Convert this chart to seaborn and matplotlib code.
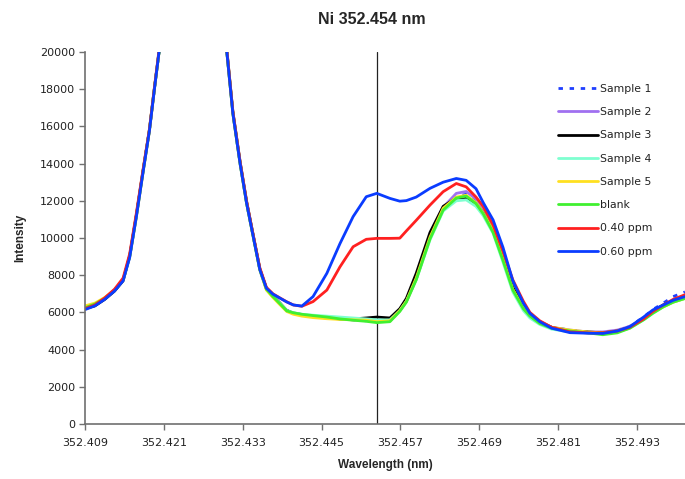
import matplotlib
matplotlib.use("Agg")
import matplotlib.pyplot as plt
import seaborn as sns
import pandas as pd
import numpy as np
from matplotlib.ticker import FixedLocator, FixedFormatter

# ---------------- data ----------------
wavelength = [352.4090, 352.4105, 352.4120, 352.4135, 352.4148, 352.4158, 352.4168, 352.4178, 352.4188, 352.4196,
              352.4203, 352.4225, 352.4255, 352.4285, 352.4305, 352.4315, 352.4326, 352.4336, 352.4346, 352.4356,
              352.4366, 352.4376, 352.4387, 352.4397, 352.4407, 352.4420, 352.4437, 352.4458, 352.4478, 352.4498,
              352.4518, 352.4534, 352.4554, 352.4569, 352.4579, 352.4594, 352.4615, 352.4635, 352.4655, 352.4670,
              352.4685, 352.4696, 352.4711, 352.4726, 352.4741, 352.4757, 352.4767, 352.4782, 352.4800, 352.4828,
              352.4855, 352.4878, 352.4900, 352.4919, 352.4940, 352.4954, 352.4970, 352.4985, 352.5003]

sample1 = [6200, 6400, 6750, 7200, 7750, 9000, 11150, 13500, 15800, 18150,
           20100, 25000, 30000, 25000, 20300, 16700, 14000, 11850, 10070, 8300,
           7250, 6850, 6470, 6100, 5980, 5880, 5800, 5720, 5650, 5600,
           5550, 5500, 5550, 6100, 6600, 7800, 10000, 11550, 12250, 12350,
           11950, 11400, 10400, 8850, 7250, 6250, 5850, 5450, 5200, 5050,
           4950, 4900, 5000, 5250, 5750, 6150, 6500, 6850, 7100]
sample2 = [6200, 6400, 6750, 7200, 7750, 9000, 11150, 13500, 15800, 18150,
           20100, 25000, 30000, 25000, 20300, 16700, 14000, 11850, 10100, 8300,
           7250, 6870, 6480, 6100, 5980, 5880, 5800, 5720, 5660, 5600,
           5560, 5520, 5550, 6100, 6600, 7800, 10050, 11650, 12400, 12500,
           12100, 11500, 10450, 8900, 7250, 6250, 5850, 5450, 5200, 5050,
           4950, 4950, 5050, 5250, 5700, 6050, 6400, 6650, 6850]
sample3 = [6200, 6350, 6700, 7150, 7700, 9050, 11200, 13550, 15800, 18150,
           20100, 25000, 30000, 25000, 20400, 16800, 14100, 11950, 10150, 8350,
           7300, 6880, 6480, 6100, 5950, 5850, 5780, 5700, 5650, 5650,
           5700, 5750, 5700, 6200, 6750, 8100, 10300, 11700, 12150, 12150,
           11850, 11350, 10350, 8900, 7350, 6350, 5900, 5500, 5200, 5000,
           4950, 4900, 5000, 5200, 5650, 6050, 6400, 6650, 6850]
sample4 = [6250, 6450, 6750, 7200, 7750, 9000, 11150, 13500, 15800, 18150,
           20100, 25000, 30000, 25000, 20300, 16700, 14000, 11850, 10070, 8300,
           7250, 6850, 6480, 6100, 5980, 5900, 5850, 5800, 5750, 5700,
           5650, 5600, 5600, 6100, 6600, 7750, 9900, 11450, 12000, 12050,
           11700, 11200, 10250, 8700, 7100, 6100, 5700, 5350, 5100, 4950,
           4900, 4850, 4950, 5150, 5600, 5950, 6300, 6550, 6750]
sample5 = [6350, 6500, 6800, 7200, 7750, 9000, 11100, 13450, 15750, 18100,
           20100, 25000, 30000, 25000, 20300, 16700, 14000, 11850, 10070, 8300,
           7200, 6800, 6400, 6050, 5900, 5800, 5720, 5660, 5620, 5600,
           5580, 5500, 5550, 6100, 6600, 7850, 10050, 11600, 12200, 12300,
           11900, 11350, 10400, 8900, 7250, 6250, 5850, 5450, 5200, 5050,
           4950, 4900, 5000, 5200, 5650, 6000, 6300, 6550, 6750]
blank = [6250, 6450, 6750, 7200, 7750, 9000, 11150, 13500, 15800, 18150,
         20100, 25000, 30000, 25000, 20300, 16700, 14000, 11850, 10070, 8300,
         7250, 6850, 6450, 6080, 5980, 5900, 5830, 5750, 5650, 5580,
         5520, 5450, 5500, 6050, 6550, 7750, 9950, 11500, 12150, 12250,
         11850, 11300, 10300, 8800, 7200, 6200, 5800, 5400, 5150, 5000,
         4900, 4800, 4900, 5150, 5600, 5950, 6300, 6550, 6750]
ppm040 = [6200, 6400, 6780, 7250, 7850, 9150, 11300, 13600, 15850, 18200,
          20200, 25000, 30000, 25000, 20400, 16800, 14100, 11950, 10150, 8400,
          7350, 7000, 6770, 6570, 6400, 6330, 6580, 7200, 8450, 9530,
          9930, 9980, 9980, 9990, 10380, 10950, 11770, 12490, 12930, 12750,
          12200, 11700, 10700, 9300, 7750, 6600, 6000, 5550, 5200, 4950,
          4900, 4900, 5000, 5200, 5650, 6050, 6400, 6700, 6950]
ppm060 = [6150, 6350, 6700, 7150, 7700, 8950, 11100, 13450, 15750, 18100,
          20100, 25000, 30000, 25000, 20300, 16700, 14000, 11850, 10070, 8300,
          7300, 6980, 6760, 6560, 6400, 6340, 6850, 8100, 9700, 11150,
          12220, 12400, 12130, 11980, 12010, 12200, 12670, 13000, 13200, 13100,
          12650, 11900, 10970, 9500, 7700, 6500, 5950, 5500, 5150, 4910,
          4880, 4870, 5000, 5230, 5750, 6130, 6400, 6650, 6850]

series_names = ["Sample 1", "Sample 2", "Sample 3", "Sample 4", "Sample 5", "blank", "0.40 ppm", "0.60 ppm"]
series_values = [sample1, sample2, sample3, sample4, sample5, blank, ppm040, ppm060]
series_colors = ["#1F3FFF", "#A070F0", "#000000", "#7FFFD0", "#FFE020", "#40F030", "#FF2020", "#0A3CFF"]

x_ticks = [352.409, 352.421, 352.433, 352.445, 352.457, 352.469, 352.481, 352.493]
y_ticks = [0, 2000, 4000, 6000, 8000, 10000, 12000, 14000, 16000, 18000, 20000]
marker_line = 352.4534

# ---------------- figure ----------------
sns.set_theme(style="white")
plt.rcParams['font.family'] = ['Liberation Sans', 'DejaVu Sans']

rows = []
for name, vals in zip(series_names, series_values):
    for w, v in zip(wavelength, vals):
        rows.append({"Wavelength": w, "Intensity": v, "series": name})
df = pd.DataFrame(rows)

fig = plt.figure(figsize=(6.85, 4.79), dpi=100)
ax = fig.add_axes([85/685, 1 - 424/479, 600/685, (424 - 52)/479])

palette = dict(zip(series_names, series_colors))
dashes = {n: "" for n in series_names}
dashes["Sample 1"] = (1.6, 2.4)

sns.lineplot(data=df, x="Wavelength", y="Intensity", hue="series", style="series",
             hue_order=series_names, style_order=series_names,
             palette=palette, dashes=dashes, estimator=None, sort=False,
             linewidth=2.0, ax=ax, legend=True)

ax.axvline(marker_line, color="#222222", linewidth=0.9, zorder=0.5)

ax.set_xlim(352.409, 352.5003)
ax.set_ylim(0, 20000)
ax.xaxis.set_major_locator(FixedLocator(x_ticks))
ax.xaxis.set_major_formatter(FixedFormatter(["%.3f" % t for t in x_ticks]))
ax.yaxis.set_major_locator(FixedLocator(y_ticks))
ax.yaxis.set_major_formatter(FixedFormatter([str(t) for t in y_ticks]))

for s in ["top", "right"]:
    ax.spines[s].set_visible(False)
for s in ["left", "bottom"]:
    ax.spines[s].set_color("#707070")
    ax.spines[s].set_linewidth(1.2)

ax.tick_params(axis="both", which="major", direction="out", length=4, width=1,
               color="#707070", labelsize=8, labelcolor="#222222", pad=3)
ax.tick_params(axis="x", pad=6)
ax.tick_params(axis="y", left=True, pad=3)
ax.tick_params(axis="x", bottom=True)
for lab in ax.get_xticklabels() + ax.get_yticklabels():
    lab.set_family("DejaVu Sans")

ax.set_xlabel("Wavelength (nm)", fontsize=8.5, fontweight="bold", labelpad=8)
ax.set_ylabel("Intensity", fontsize=8.5, fontweight="bold", labelpad=10)

fig.text(372/685, 1 - 20/479, "Ni 352.454 nm", ha="center", va="center",
         fontsize=11.5, fontweight="bold")

handles, labels = ax.get_legend_handles_labels()
leg = ax.legend(handles, labels, loc="upper left", bbox_to_anchor=(558/685, 1 - 84/479),
                bbox_transform=fig.transFigure, frameon=False,
                prop={"family": "DejaVu Sans", "size": 7.8},
                handlelength=3.7, handletextpad=0.15, labelspacing=1.22,
                borderpad=0, borderaxespad=0)
for t in leg.get_texts():
    t.set_color("#222222")

fig.savefig("out.png", dpi=100)
